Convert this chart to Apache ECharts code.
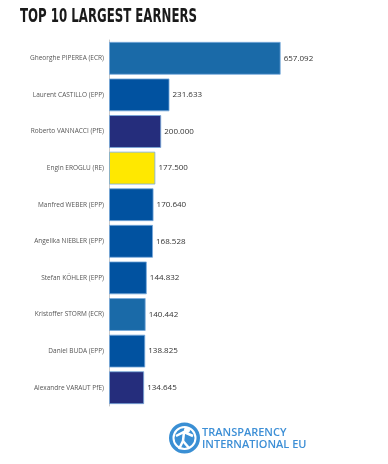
<!DOCTYPE html>
<html><head><meta charset="utf-8">
<script src="https://cdn.jsdelivr.net/npm/echarts@6/dist/echarts.min.js"></script>
<style>html,body{margin:0;padding:0;background:#fff}#c{width:388px;height:464px}</style>
</head><body><div id="c"></div>
<script>
const titleText = "TOP 10 LARGEST EARNERS";
const names = ["Gheorghe PIPEREA (ECR)","Laurent CASTILLO (EPP)","Roberto VANNACCI (PfE)","Engin EROGLU (RE)","Manfred WEBER (EPP)","Angelika NIEBLER (EPP)","Stefan KÖHLER (EPP)","Kristoffer STORM (ECR)","Daniel BUDA (EPP)","Alexandre VARAUT PfE)"];
const groups = ["ECR","EPP","PfE","RE","EPP","EPP","EPP","ECR","EPP","PfE"];
const values = [657092,231633,200000,177500,170640,168528,144832,140442,138825,134645];
const groupColors = {ECR:"#1a6aa8", EPP:"#0152a0", PfE:"#252d7c", RE:"#ffe800"};

const chart = echarts.init(document.getElementById('c'));
function fmt(v){ return String(v).replace(/\B(?=(\d{3})+(?!\d))/g,'.'); }
const titleFont = "bold 19px 'DejaVu Sans'";
const cv = document.createElement('canvas').getContext('2d');
cv.font = titleFont;
const tw = cv.measureText(titleText).width;
const sx = 177 / tw;
chart.setOption({
  animation:false,
  grid:{left:109, top:40, width:261.3, height:366, containLabel:false},
  xAxis:{type:"value", min:0, max:1000000, show:false},
  yAxis:{type:"category", inverse:true, data:names,
    axisLine:{show:true, lineStyle:{color:"#c8c8c8", width:1}},
    axisTick:{show:false},
    axisLabel:{fontSize:6.5, color:"#555", margin:5, fontFamily:"Open Sans"}},
  series:[{type:"bar", barCategoryGap:"10%",
    data: values.map((v,i)=>({value:v, itemStyle:{color:groupColors[groups[i]]}})),
    itemStyle:{borderColor:"rgba(120,170,220,0.8)", borderWidth:1},
    label:{show:true, position:"right", distance:3, fontSize:8, color:"#333", fontFamily:"Open Sans",
      formatter:p=>fmt(p.value)}
  }],
  graphic:[
    {type:"text", x:20, y:8, scaleX:sx, style:{text:titleText, fill:"#1a1a1a", font:titleFont}},
    {type:"circle", shape:{cx:184.5, cy:438, r:15.5}, style:{fill:"#3a8fd4"}},
    {type:"circle", shape:{cx:184.5, cy:438, r:11}, style:{fill:"none", stroke:"#fff", lineWidth:2}},
    {type:"circle", shape:{cx:187, cy:430, r:3}, style:{fill:"#fff"}},
    {type:"polyline", shape:{points:[[176,436],[184,432],[193,436]]}, style:{stroke:"#fff", lineWidth:2.5, fill:"none"}},
    {type:"polyline", shape:{points:[[184,432],[183,441],[179,449]]}, style:{stroke:"#fff", lineWidth:2.5, fill:"none"}},
    {type:"polyline", shape:{points:[[183,441],[189,448]]}, style:{stroke:"#fff", lineWidth:2.5, fill:"none"}},
    {type:"text", left:202, top:427, style:{text:"TRANSPARENCY\nINTERNATIONAL EU", fill:"#3d8fd6",
      font:"600 11px 'Open Sans'", lineHeight:12}}
  ]
});
</script></body></html>
